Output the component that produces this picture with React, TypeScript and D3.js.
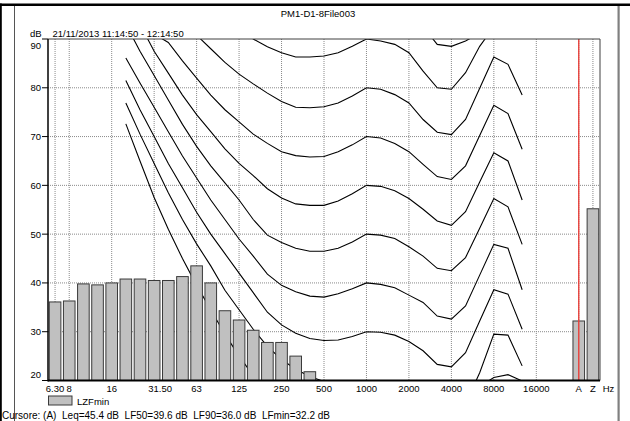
import React from "react";
import * as d3 from "d3";

// ---------- DATA ----------
const bands = ["6.3","8","10","12.5","16","20","25","31.5","40","50","63","80","100","125","160","200","250","315","400","500","630","800","1000","1250","1600","2000","2500","3150","4000","5000","6300","8000","10000","12500","16000","20000"];
const slots = [...bands, "gap", "A", "Z"];

// LZFmin spectrum (dB), null = below the displayed range
const lzfmin: (number | null)[] = [36.1, 36.3, 39.8, 39.6, 40.0, 40.8, 40.8, 40.5, 40.5, 41.3, 43.5, 40.0, 34.3, 32.4, 30.3, 27.8, 27.8, 25.0, 21.8,
  null, null, null, null, null, null, null, null, null, null, null, null, null, null, null, null, null];
const overallBands = ["A", "Z"];
const overallValues = [32.2, 55.2];

const tickBands = ["6.3","8","16","31.5","63","125","250","500","1000","2000","4000","8000","16000","A","Z"];
const tickLabels = ["6.30","8","16","31.50","63","125","250","500","1000","2000","4000","8000","16000","A","Z"];
const yTicks = [20, 30, 40, 50, 60, 70, 80, 90];
const yGrid = [30, 40, 50, 60, 70, 80];

// equal-loudness contours
const contourBands = ["20","25","31.5","40","50","63","80","100","125","160","200","250","315","400","500","630","800","1000","1250","1600","2000","2500","3150","4000","5000","6300","8000","10000","12500"];
const phon10 = [72.6, 65.0, 57.5, 51.0, 45.0, 39.5, 34.5, 29.5, 25.0, 21.0, 17.5, 14.8, 12.8, 11.3, 10.4, 10.0, 9.9, 10.0, 10.0, 9.5, 8.0, 6.5, 5.0, 4.5, 6.5, 18.8, 20.6, 21.2, 19.9];
const phon20 = [76.9, 70.5, 64.5, 58.5, 53.0, 48.0, 43.5, 38.5, 34.5, 30.5, 27.0, 24.3, 22.3, 20.8, 19.8, 19.3, 19.4, 20.0, 19.9, 19.3, 17.8, 16.0, 13.5, 13.0, 15.2, 21.6, 29.5, 29.3, 23.0];
const phon30 = [81.5, 75.5, 70.0, 64.5, 59.5, 54.5, 50.0, 46.0, 42.0, 38.0, 34.0, 31.4, 29.7, 28.6, 28.2, 28.3, 29.0, 30.0, 29.9, 29.3, 28.0, 26.1, 23.3, 22.8, 25.7, 32.2, 38.6, 37.7, 30.5];
const phon40 = [86.1, 81.0, 76.0, 71.0, 66.0, 61.5, 57.0, 53.0, 49.0, 45.5, 41.8, 39.5, 38.2, 37.3, 37.1, 37.8, 38.8, 40.0, 39.7, 39.0, 37.5, 36.0, 33.2, 32.6, 35.3, 41.6, 47.9, 47.1, 38.6];
const phon50 = [93.0, 87.5, 82.5, 77.5, 72.5, 68.0, 64.0, 60.5, 57.0, 53.0, 49.8, 48.3, 47.1, 46.5, 46.5, 47.1, 48.4, 50.0, 49.8, 49.1, 47.4, 45.5, 43.0, 42.5, 45.2, 51.2, 57.3, 55.6, 47.9];
const phon60 = [98.5, 93.0, 87.5, 83.0, 78.5, 74.5, 71.0, 67.5, 64.5, 62.0, 59.3, 57.4, 56.2, 55.9, 55.9, 56.8, 58.3, 60.0, 59.8, 58.9, 57.3, 55.1, 52.7, 51.8, 54.6, 60.7, 66.7, 65.0, 57.0];
const phon70 = [103.0, 97.0, 91.0, 89.3, 85.5, 82.0, 78.5, 75.5, 73.0, 70.5, 68.6, 66.9, 66.1, 65.8, 65.9, 66.9, 68.3, 70.0, 69.7, 68.6, 66.9, 64.3, 61.8, 61.2, 64.0, 70.2, 76.4, 74.7, 67.4];
const phon80 = [104.0, 101.5, 99.0, 96.5, 94.0, 90.8, 88.0, 85.2, 82.8, 80.8, 78.9, 77.2, 76.0, 75.9, 76.1, 76.9, 78.3, 80.0, 79.7, 78.6, 76.9, 73.5, 70.9, 70.4, 73.5, 79.9, 86.3, 84.8, 78.5];
const phon90 = [112.0, 109.0, 106.0, 103.5, 101.0, 98.5, 96.0, 94.0, 92.0, 90.0, 88.4, 87.2, 86.3, 86.3, 86.5, 87.2, 88.5, 90.0, 89.6, 88.9, 87.2, 83.4, 80.0, 79.7, 83.1, 88.5, 92.5, 92.0, 90.5];
const phon100 = [120.0, 117.0, 114.0, 111.5, 109.0, 107.0, 105.0, 103.0, 101.5, 100.0, 98.5, 97.3, 96.3, 96.2, 96.4, 97.1, 98.4, 100.0, 99.7, 98.8, 97.0, 92.5, 88.9, 88.5, 89.6, 91.2, 99.0, 98.0, 95.0];
const contours = [phon10, phon20, phon30, phon40, phon50, phon60, phon70, phon80, phon90, phon100];

const titleText = "PM1-D1-8File003";
const periodText = "21/11/2013 11:14:50 - 12:14:50";
const seriesName = "LZFmin";
const cursorText = "Cursore: (A)  Leq=45.4 dB  LF50=39.6 dB  LF90=36.0 dB  LFmin=32.2 dB";
const cursorBand = "A";

// ---------- LAYOUT ----------
const W = 630, H = 421;
const L = 48, R = 600, T = 39, B = 380.5;
const FONT = "'Liberation Sans', Arial, Helvetica, sans-serif";

export default function App() {
  const x = d3.scaleBand<string>().domain(slots).range([L, R]).paddingInner(0.18).paddingOuter(0.09);
  const cx = (k: string) => (x(k) as number) + x.bandwidth() / 2;
  const y = d3.scaleLinear().domain([20, 90]).range([B, T]);

  const line = d3.line<number>()
    .x((_, i) => cx(contourBands[i]))
    .y((d) => y(d))
    .curve(d3.curveLinear);

  const bars = bands.map((b, i) => ({ k: b, v: lzfmin[i] })).filter((d) => d.v !== null && (d.v as number) > 20) as { k: string; v: number }[];
  const overall = overallBands.map((k, i) => ({ k, v: overallValues[i] }));
  const allBars = [...bars, ...overall];

  const yLabelY = (t: number) => {
    if (t === 90) return y(t) + 9.5;
    if (t === 20) return y(t) - 2.5;
    return y(t) + 3.4;
  };

  return (
    <svg width={W} height={H} style={{ position: "absolute", left: 0, top: 0, background: "#fff" }} fontFamily={FONT}>
      <defs>
        <clipPath id="plotclip">
          <rect x={L} y={T} width={R - L} height={B - T} />
        </clipPath>
      </defs>
      <rect x={0} y={0} width={W} height={H} fill="#fff" />

      {/* outer frame */}
      <rect x={0} y={3.5} width={W} height={2.5} fill="#000" />
      <rect x={0} y={3.5} width={1.8} height={H} fill="#000" />
      <line x1={14.5} x2={14.5} y1={6} y2={H} stroke="#555" strokeWidth={1} />
      <rect x={617.5} y={6} width={2.2} height={H} fill="#808080" />

      {/* title */}
      <text x={318} y={16.5} fontSize={9.5} textAnchor="middle" fill="#000">{titleText}</text>
      <text x={30} y={36.5} fontSize={9.5} fill="#000">dB</text>
      <text x={52.5} y={36.5} fontSize={9.5} fill="#000">{periodText}</text>

      {/* grid */}
      {yGrid.map((t) => (
        <line key={"gy" + t} x1={L} x2={R} y1={y(t)} y2={y(t)} stroke="#8a8a8a" strokeWidth={1} strokeDasharray="1 1" />
      ))}
      {tickBands.map((k) => (
        <line key={"gx" + k} x1={cx(k)} x2={cx(k)} y1={T} y2={B} stroke="#8a8a8a" strokeWidth={1} strokeDasharray="1 1" />
      ))}

      {/* contours (behind bars) */}
      <g clipPath="url(#plotclip)">
        {contours.map((c, i) => (
          <path key={"c" + i} d={line(c) as string} fill="none" stroke="#000" strokeWidth={1.1} />
        ))}
      </g>

      {/* bars */}
      <g>
        {allBars.map((d) => (
          <rect key={"b" + d.k} x={x(d.k) as number} y={y(d.v)} width={x.bandwidth()} height={B - y(d.v)}
            fill="#c0c0c0" stroke="#3a3a3a" strokeWidth={1} />
        ))}
      </g>

      {/* cursor */}
      <line x1={cx(cursorBand)} x2={cx(cursorBand)} y1={T} y2={B} stroke="#e8403a" strokeWidth={1.4} />

      {/* plot borders */}
      <line x1={L} x2={R} y1={T} y2={T} stroke="#404040" strokeWidth={1} />
      <line x1={R} x2={R} y1={T} y2={B} stroke="#404040" strokeWidth={1} />
      <line x1={L} x2={L} y1={T} y2={B + 1} stroke="#000" strokeWidth={1.5} />
      <line x1={L} x2={R} y1={B} y2={B} stroke="#000" strokeWidth={2} />

      {/* y axis */}
      {yTicks.map((t) => (
        <g key={"yt" + t}>
          <line x1={42} x2={L} y1={y(t)} y2={y(t)} stroke="#000" strokeWidth={1} />
          <text x={41} y={yLabelY(t)} fontSize={9.5} textAnchor="end" fill="#000">{t}</text>
        </g>
      ))}

      {/* x axis labels */}
      {tickBands.map((k, i) => (
        <text key={"xl" + k} x={cx(k) + (tickLabels[i] === "31.50" ? 6 : 0)} y={392} fontSize={9.5} textAnchor="middle" fill="#000">{tickLabels[i]}</text>
      ))}
      <text x={608.5} y={392} fontSize={9.5} textAnchor="middle" fill="#000">Hz</text>

      {/* legend */}
      <rect x={48.5} y={396} width={23.5} height={9} fill="#c0c0c0" stroke="#3a3a3a" strokeWidth={1} />
      <text x={77} y={404.5} fontSize={9.5} fill="#000">{seriesName}</text>

      <text x={2} y={418.5} fontSize={10} fill="#000" style={{ whiteSpace: "pre" }}>{cursorText}</text>
    </svg>
  );
}
